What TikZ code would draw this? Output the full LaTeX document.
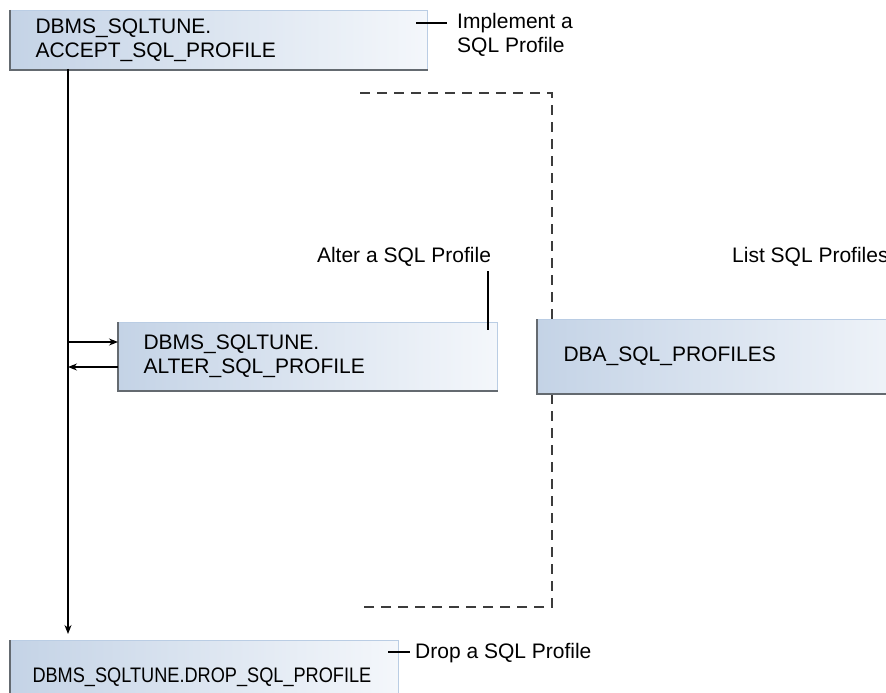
\documentclass[tikz,border=0pt]{standalone}
\usepackage{fontspec}
\setmainfont{Liberation Sans}
\usetikzlibrary{arrows.meta}
\definecolor{boxleft}{RGB}{196,211,230}
\definecolor{boxright}{RGB}{244,247,251}
\definecolor{boxedge}{RGB}{186,205,228}
\definecolor{shadow}{RGB}{100,106,112}
\tikzset{
  box/.style={anchor=north west, left color=boxleft, right color=boxright,
    draw=boxedge, line width=1pt, inner xsep=25pt, inner ysep=0pt,
    align=left, font=\fontsize{21}{24}\selectfont},
  lbl/.style={inner sep=0pt, align=left, font=\fontsize{21}{24}\selectfont},
  conn/.style={line width=1.2pt, black},
  arr/.style={conn, -{Stealth[length=9pt,width=7pt]}},
  dashline/.style={line width=1.3pt, draw={rgb,255:red,60;green,60;blue,60}, dash pattern=on 10pt off 7pt},
  shadowline/.style={draw=shadow, line width=1.6pt}
}
\begin{document}
\begin{tikzpicture}[x=1pt,y=-1pt]
\useasboundingbox (0,0) rectangle (886,693);
\clip (0,0) rectangle (886,693);

% dashed bracket
\coordinate (d1) at (360,93);
\coordinate (d2) at (552,93);
\coordinate (d3) at (552,607);
\coordinate (d4) at (360,607);
\draw[dashline] (d1) -- (d2) -- (d3) -- (d4);

% boxes
\node[box, minimum height=59pt, text width=367pt] (A) at (10,10) {DBMS\_SQLTUNE.\\ACCEPT\_SQL\_PROFILE};
\node[box, minimum height=68pt, text width=329pt] (B) at (118,322) {DBMS\_SQLTUNE.\\ALTER\_SQL\_PROFILE};
\node[box, minimum height=74pt, text width=350pt, inner xsep=26pt] (C) at (537,319) {DBA\_SQL\_PROFILES};
\node[box, minimum height=74pt, text width=344pt, inner xsep=22pt] (D) at (10,640) {\scalebox{0.865}[1]{DBMS\_SQLTUNE.DROP\_SQL\_PROFILE}};

\foreach \n in {A,B,C,D}{
  \draw[shadowline] (\n.north west) -- (\n.south west) -- (\n.south east);
}

% spine
\coordinate (sA) at (68,69);
\coordinate (sD) at (68,640);
\coordinate (s1) at (68,342);
\coordinate (s2) at (68,367);
\draw[arr, shorten >=6pt] (sA) -- (sD);
\draw[arr] (s1) -- (s1 -| B.west);
\draw[arr] (s2 -| B.west) -- (s2);

% labels
\coordinate (la1) at (416,23);
\coordinate (la2) at (447,23);
\draw[conn, line width=1.6pt] (la1) -- (la2);
\node[lbl, anchor=west] (impl) at (457,35) {Implement a\\SQL Profile};

\node[lbl, anchor=base] (alt) at (404,262) {Alter a SQL Profile};
\coordinate (lb1) at (488,271);
\coordinate (lb2) at (488,330);
\draw[conn, line width=2pt] (lb1) -- (lb2);

\node[lbl, anchor=base west] (lst) at (732,262) {List SQL Profiles};

\coordinate (ld1) at (388,652);
\coordinate (ld2) at (410,652);
\draw[conn, line width=1.6pt] (ld1) -- (ld2);
\node[lbl, anchor=base west] (drp) at (415,658) {Drop a SQL Profile};
\end{tikzpicture}
\end{document}
